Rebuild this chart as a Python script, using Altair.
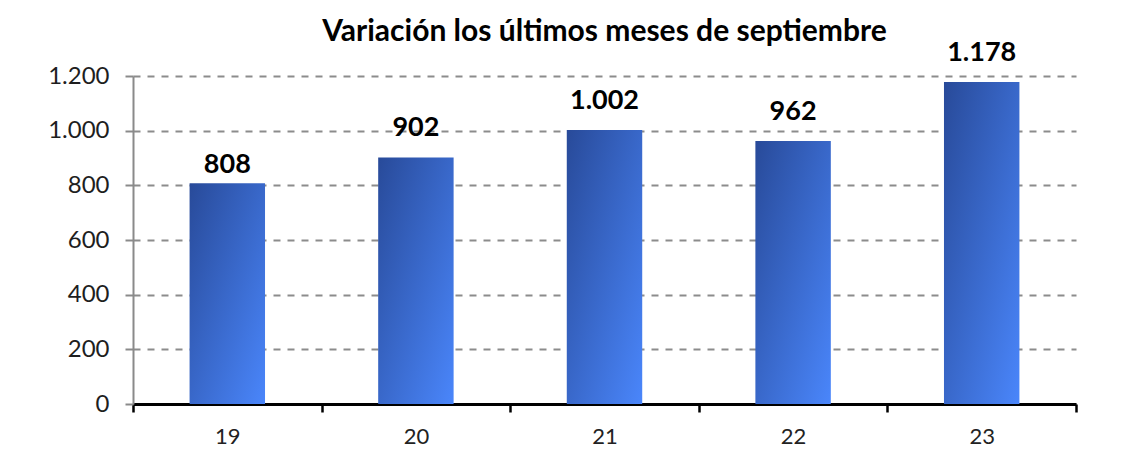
import altair as alt
import pandas as pd

years = ["19", "20", "21", "22", "23"]
values = [808, 902, 1002, 962, 1178]
y_ticks = [0, 200, 400, 600, 800, 1000, 1200]
title_text = "Variación los últimos meses de septiembre"

df = pd.DataFrame({"year": years, "value": values})

FONT = "Lato"

gradient = alt.Gradient(
    gradient="linear",
    stops=[
        alt.GradientStop(color="#284a99", offset=0),
        alt.GradientStop(color="#4a86fb", offset=1),
    ],
    x1=0, y1=0, x2=1, y2=1,
)

x_enc = alt.X(
    "year:N",
    sort=years,
    scale=alt.Scale(paddingInner=0, paddingOuter=0),
    axis=alt.Axis(
        title=None,
        labelAngle=0,
        labelFont=FONT,
        labelFontSize=22,
        labelColor="#222222",
        labelPadding=14,
        domainColor="black",
        domainWidth=3,
        tickColor="black",
        tickWidth=2.5,
        tickSize=8,
        tickBand="extent",
        grid=False,
    ),
)

y_enc = alt.Y(
    "value:Q",
    scale=alt.Scale(domain=[0, 1200], nice=False),
    axis=alt.Axis(
        title=None,
        values=y_ticks,
        labelExpr="replace(format(datum.value, ','), ',', '.')",
        labelFont=FONT,
        labelFontSize=24,
        labelColor="#1e1e1e",
        labelPadding=16,
        domainColor="#8a8a8a",
        domainWidth=2,
        tickColor="#8a8a8a",
        tickWidth=2,
        tickSize=8,
        grid=True,
        gridColor="#8c8c8c",
        gridWidth=2,
        gridDash=[7, 7],
    ),
)

base = alt.Chart(df)

bars = base.mark_bar(color=gradient, width={"band": 0.4}).encode(x=x_enc, y=y_enc)

label_base = base.transform_calculate(
    label="replace(format(datum.value, ','), ',', '.')"
)
text_style = dict(font=FONT, fontSize=27, fontWeight="bold", color="black",
                  baseline="alphabetic")
text_enc = dict(x=alt.X("year:N", sort=years), y="value:Q", text="label:N")

labels_first = (
    label_base.transform_filter(alt.datum.year == years[0])
    .mark_text(dy=-10, **text_style)
    .encode(**text_enc)
)
labels_rest = (
    label_base.transform_filter(alt.datum.year != years[0])
    .mark_text(dy=-21, **text_style)
    .encode(**text_enc)
)

chart = (
    alt.layer(bars, labels_first, labels_rest)
    .properties(
        width=943,
        height=328,
        title=alt.TitleParams(
            text=title_text,
            font=FONT,
            fontSize=30,
            fontWeight="bold",
            color="black",
            anchor="middle",
            offset=0,
            dy=8,
        ),
        autosize=alt.AutoSizeParams(type="none"),
        padding={"left": 125, "top": 68, "right": 30, "bottom": 46},
        background="white",
    )
    .configure_view(stroke=None)
)

chart.save("out.html", embed_options={"renderer": "svg", "actions": False})
